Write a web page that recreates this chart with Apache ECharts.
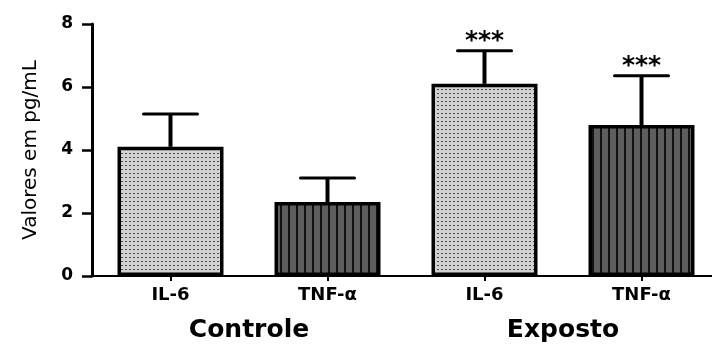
<!DOCTYPE html>
<html>
<head>
<meta charset="utf-8">
<script src="https://cdn.jsdelivr.net/npm/echarts@6/dist/echarts.min.js"></script>
<style>
html,body{margin:0;padding:0;background:#fff;}
#c{width:712px;height:345px;}
</style>
</head>
<body>
<div id="c"></div>
<script>
const categories = ['IL-6', 'TNF-α', 'IL-6', 'TNF-α'];
const groups = ['Controle', 'Exposto'];
const means = [4.1, 2.35, 6.1, 4.79];
const errors = [1.04, 0.76, 1.05, 1.57];
const significance = ['', '', '***', '***'];
const yMin = 0, yMax = 8, yInterval = 2;
const yAxisTitle = 'Valores em pg/mL';

function dotPattern() {
  const c = document.createElement('canvas');
  c.width = 4; c.height = 4;
  const g = c.getContext('2d');
  g.fillStyle = '#d2d2d2'; g.fillRect(0, 0, 4, 4);
  g.fillStyle = '#4a4a4a'; g.fillRect(1, 1, 2, 1);
  return { image: c, repeat: 'repeat' };
}
function stripePattern() {
  const c = document.createElement('canvas');
  c.width = 8; c.height = 8;
  const g = c.getContext('2d');
  g.fillStyle = '#5e5e5e'; g.fillRect(0, 0, 8, 8);
  g.fillStyle = '#111'; g.fillRect(0, 0, 2, 8);
  return { image: c, repeat: 'repeat' };
}
const fills = [dotPattern(), stripePattern()];

const chart = echarts.init(document.getElementById('c'), null, { renderer: 'canvas' });
const FONT = 'DejaVu Sans';

chart.setOption({
  animation: false,
  backgroundColor: '#fff',
  grid: { left: 92, right: -8, top: 24, bottom: 69, outerBoundsMode: 'none', containLabel: false },
  xAxis: [
    {
      type: 'category', data: categories, position: 'bottom',
      axisLine: { show: true, lineStyle: { color: '#000', width: 2 } },
      axisTick: { show: true, alignWithLabel: true, length: 5, lineStyle: { color: '#000', width: 2 } },
      axisLabel: { color: '#000', fontFamily: FONT, fontWeight: 'bold', fontSize: 18, margin: 10 },
      splitLine: { show: false }
    },
    {
      type: 'category', data: groups, position: 'bottom', gridIndex: 0,
      axisLine: { show: false }, axisTick: { show: false },
      axisLabel: {
        color: '#000', fontFamily: FONT, fontWeight: 'bold', fontSize: 25, margin: 42,
        formatter: function (v, i) { return v; }
      },
      splitLine: { show: false }
    }
  ],
  yAxis: {
    type: 'value', min: yMin, max: yMax, interval: yInterval,
    name: yAxisTitle, nameLocation: 'middle', nameRotate: 90, nameGap: 51,
    nameTextStyle: { color: '#000', fontFamily: FONT, fontSize: 20 },
    axisLine: { show: true, lineStyle: { color: '#000', width: 3 } },
    axisTick: { show: true, length: 10, lineStyle: { color: '#000', width: 2.5 } },
    axisLabel: { color: '#000', fontFamily: FONT, fontWeight: 'bold', fontSize: 17, margin: 19 },
    splitLine: { show: false }
  },
  series: [
    {
      type: 'bar', xAxisIndex: 0, barWidth: 106,
      data: means.map((v, i) => ({
        value: v,
        itemStyle: { color: fills[i % 2], borderColor: '#000', borderWidth: 3.5 }
      })),
      z: 2
    },
    {
      type: 'custom', xAxisIndex: 0, z: 5,
      data: means.map((m, i) => [i, m, errors[i]]),
      renderItem: function (params, api) {
        const i = api.value(0), m = api.value(1), e = api.value(2);
        const base = api.coord([i, m]);
        const top = api.coord([i, m + e]);
        const half = 27;
        const children = [
          { type: 'line', shape: { x1: base[0], y1: base[1], x2: top[0], y2: top[1] },
            style: { stroke: '#000', lineWidth: 4 } },
          { type: 'line', shape: { x1: top[0] - half, y1: top[1], x2: top[0] + half, y2: top[1] },
            style: { stroke: '#000', lineWidth: 3, lineCap: 'round' } }
        ];
        if (significance[params.dataIndex]) {
          children.push({
            type: 'text',
            style: {
              text: significance[params.dataIndex], x: top[0], y: top[1] + 3,
              align: 'center', verticalAlign: 'bottom',
              fontFamily: FONT, fontWeight: 'bold', fontSize: 25, fill: '#000'
            }
          });
        }
        return { type: 'group', children: children };
      }
    }
  ]
});
</script>
</body>
</html>
